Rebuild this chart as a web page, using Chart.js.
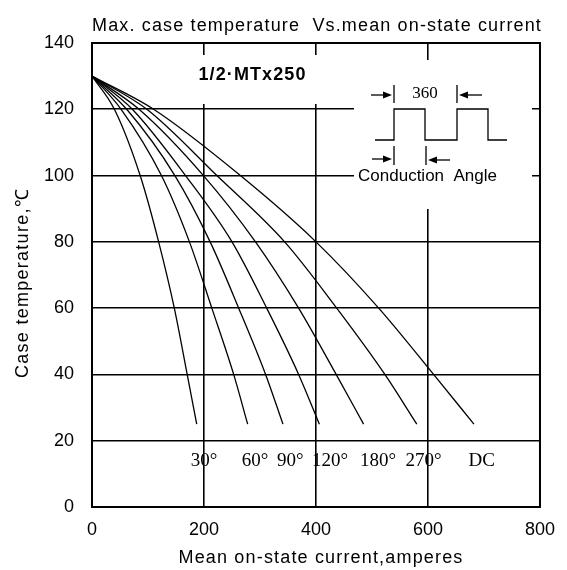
<!DOCTYPE html>
<html>
<head>
<meta charset="utf-8">
<script src="https://cdn.jsdelivr.net/npm/chart.js@4/dist/chart.umd.min.js"></script>
<style>
	html, body { margin: 0; padding: 0; background: #fff; }
	#wrap { width: 567px; height: 570px; }
</style>
</head>
<body>
<div id="wrap"><canvas id="chart"></canvas></div>
<script>
const temps = [130, 120, 100, 80, 60, 40, 25];

// mean on-state current (A) at those temperatures, one list per conduction angle
const curve30 = [0, 40, 86, 119, 147, 170, 187];
const curve60 = [0, 52, 124, 174, 214, 253, 278];
const curve90 = [0, 62, 148, 211, 262, 310, 341];
const curve120 = [0, 72, 167, 250, 312, 369, 406];
const curve180 = [0, 84, 199, 292, 369, 436, 485];
const curve270 = [0, 98, 223, 344, 437, 523, 580];
const curveDC = [0, 110, 265, 400, 512, 610, 682];

const curveNames = ["30°", "60°", "90°", "120°", "180°", "270°", "DC"];
const xTicks = [0, 200, 400, 600, 800];
const yTicks = [0, 20, 40, 60, 80, 100, 120, 140];

const allCurves = [curve30, curve60, curve90, curve120, curve180, curve270, curveDC];

// where the angle names sit along the x axis (A)
const nameX = [200, 291, 354, 425, 511, 592, 696];

const SANS = '"Liberation Sans", Arial, sans-serif';
const SERIF = '"Liberation Serif", "Times New Roman", serif';

// draw text stretched out to a given width by spacing the letters
function spreadText(ctx, text, cx, y, width) {
	ctx.textAlign = "left";
	if ("letterSpacing" in ctx) {
		ctx.letterSpacing = "0px";
		const w = ctx.measureText(text).width;
		const gap = (width - w) / [...text].length;
		ctx.letterSpacing = gap + "px";
		ctx.fillText(text, cx - width / 2, y);
		ctx.letterSpacing = "0px";
	} else {
		const w = ctx.measureText(text).width;
		ctx.save();
		ctx.translate(cx - width / 2, y);
		ctx.scale(width / w, 1);
		ctx.fillText(text, 0, 0);
		ctx.restore();
	}
}

function arrow(ctx, x1, x2, y) {
	const dir = x2 > x1 ? 1 : -1;
	ctx.beginPath();
	ctx.moveTo(x1, y);
	ctx.lineTo(x2 - dir * 7, y);
	ctx.stroke();
	ctx.beginPath();
	ctx.moveTo(x2, y);
	ctx.lineTo(x2 - dir * 9, y - 3.5);
	ctx.lineTo(x2 - dir * 9, y + 3.5);
	ctx.closePath();
	ctx.fill();
}

const decor = {
	id: "decor",
	beforeDatasetsDraw(chart) {
		const ctx = chart.ctx;
		ctx.save();
		ctx.fillStyle = "#fff";
		// blank spots behind the model name and the waveform sketch
		ctx.fillRect(150, 55, 205, 49);
		ctx.fillRect(354, 60, 178, 149);
		ctx.restore();
	},
	afterDatasetsDraw(chart) {
		const ctx = chart.ctx;
		const a = chart.chartArea;
		const xs = chart.scales.x;
		const ys = chart.scales.y;
		ctx.save();

		ctx.strokeStyle = "#000";
		ctx.lineWidth = 2;
		ctx.strokeRect(a.left, a.top, a.right - a.left, a.bottom - a.top);

		ctx.fillStyle = "#000";
		ctx.textBaseline = "alphabetic";

		ctx.font = "18px " + SANS;
		spreadText(ctx, "Max. case temperature  Vs.mean on-state current", 317, 31, 450);
		spreadText(ctx, "Mean on-state current,amperes", 321, 563, 285);

		ctx.save();
		ctx.translate(28, 283);
		ctx.rotate(-Math.PI / 2);
		spreadText(ctx, "Case temperature,℃", 0, 0, 190);
		ctx.restore();

		ctx.font = "bold 18px " + SANS;
		spreadText(ctx, "1/2·MTx250", 252.5, 80, 108);

		ctx.textAlign = "center";
		ctx.font = "19px " + SERIF;
		curveNames.forEach((name, i) => {
			ctx.fillText(name, xs.getPixelForValue(nameX[i]), ys.getPixelForValue(12.4));
		});

		// waveform sketch
		ctx.lineWidth = 1.3;
		ctx.beginPath();
		ctx.moveTo(375, 140);
		ctx.lineTo(394, 140);
		ctx.lineTo(394, 109);
		ctx.lineTo(425, 109);
		ctx.lineTo(425, 140);
		ctx.lineTo(457, 140);
		ctx.lineTo(457, 109);
		ctx.lineTo(488, 109);
		ctx.lineTo(488, 140);
		ctx.lineTo(507, 140);
		ctx.stroke();

		ctx.beginPath();
		ctx.moveTo(394, 85); ctx.lineTo(394, 103);
		ctx.moveTo(457, 85); ctx.lineTo(457, 103);
		ctx.moveTo(394, 146); ctx.lineTo(394, 165);
		ctx.moveTo(426, 146); ctx.lineTo(426, 165);
		ctx.stroke();

		arrow(ctx, 371, 392, 95);
		arrow(ctx, 482, 459, 95);
		arrow(ctx, 372, 392, 159);
		arrow(ctx, 450, 428, 160);

		ctx.textAlign = "center";
		ctx.font = "17px " + SERIF;
		ctx.fillText("360", 425, 98);
		ctx.font = "17px " + SANS;
		ctx.fillText("Conduction  Angle", 427.5, 181);

		ctx.restore();
	}
};

const datasets = allCurves.map((curve, i) => ({
	label: curveNames[i],
	data: curve.map((amps, j) => ({ x: amps, y: temps[j] })),
	showLine: true,
	borderColor: "#000",
	borderWidth: 1.3,
	pointRadius: 0,
	cubicInterpolationMode: "monotone",
	fill: false
}));

new Chart(document.getElementById("chart"), {
	type: "scatter",
	data: { datasets: datasets },
	plugins: [decor],
	options: {
		responsive: true,
		maintainAspectRatio: false,
		animation: false,
		layout: { padding: { top: 43, right: 26, left: 0, bottom: 0 } },
		plugins: {
			legend: { display: false },
			title: { display: false },
			tooltip: { enabled: false }
		},
		scales: {
			x: {
				type: "linear",
				min: 0,
				max: 800,
				afterBuildTicks: (scale) => { scale.ticks = xTicks.map((v) => ({ value: v })); },
				afterFit: (scale) => { scale.height = 63; },
				border: { display: false },
				grid: {
					color: (c) => (c.tick && (c.tick.value === 0 || c.tick.value === 800) ? "rgba(0,0,0,0)" : "#000"),
					lineWidth: 1.6,
					drawTicks: false
				},
				ticks: {
					color: "#000",
					padding: 12,
					maxRotation: 0,
					font: { family: SANS, size: 18 }
				}
			},
			y: {
				type: "linear",
				min: 0,
				max: 140,
				afterBuildTicks: (scale) => { scale.ticks = yTicks.map((v) => ({ value: v })); },
				afterFit: (scale) => { scale.width = 92; },
				border: { display: false },
				grid: {
					color: "#000",
					lineWidth: 1.6,
					drawTicks: false
				},
				ticks: {
					color: "#000",
					padding: 18,
					font: { family: SANS, size: 18 }
				}
			}
		}
	}
});
</script>
</body>
</html>
